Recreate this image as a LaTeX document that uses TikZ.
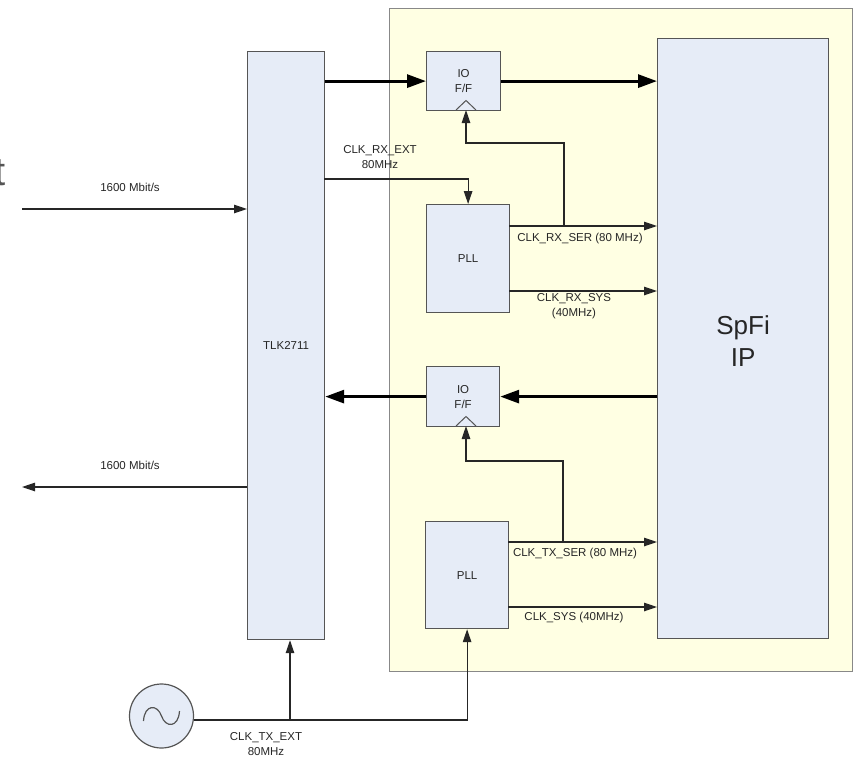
\documentclass[tikz,border=0pt]{standalone}
\usepackage{fontspec}
\setmainfont{Liberation Sans}
\usetikzlibrary{arrows.meta}
\definecolor{boxfill}{HTML}{E6ECF7}
\definecolor{boxline}{HTML}{555555}
\definecolor{yelfill}{HTML}{FFFFE3}
\definecolor{yelline}{HTML}{888888}
\definecolor{txt}{HTML}{262626}
\tikzset{
  blk/.style={draw=boxline, line width=1.2pt, fill=boxfill, inner sep=0pt, anchor=north west, text=txt, align=center},
  lbl/.style={text=txt, inner sep=0pt, align=center, font=\fontsize{11.5}{15}\selectfont},
  thinarr/.style={draw=txt, line width=1.2pt, -{Triangle[length=13pt,width=8.5pt]}},
  boldarr/.style={draw=black, line width=3pt, -{Triangle[length=19pt,width=13pt]}},
  clk/.style={draw=boxline, line width=1pt},
}
\begin{document}
\begin{tikzpicture}[x=1pt,y=-1pt]
\useasboundingbox (0,0) rectangle (854,758);
% cut-off text at left edge
\node[anchor=base east, inner sep=0pt, text=boxline, font=\fontsize{40}{44}\selectfont] (cut) at (6,185) {t};
% yellow FPGA region
\node[draw=yelline, line width=1.2pt, fill=yelfill, anchor=north west, inner sep=0pt, minimum width=463pt, minimum height=663pt] (fpga) at (389,8) {};
% blocks
\node[blk, minimum width=77pt, minimum height=588pt] (tlk) at (247,51) {};
\node[lbl] (tlklbl) at (tlk.center) {TLK2711};
\node[blk, minimum width=171pt, minimum height=600pt] (spfi) at (657,38) {};
\node[lbl, font=\fontsize{26}{32}\selectfont] (spfilbl) at ([yshift=-2pt]spfi.center) {SpFi\\IP};
\node[blk, minimum width=74pt, minimum height=59pt] (io1) at (426,51) {};
\node[lbl] (io1lbl) at (io1.center) {IO\\F/F};
\node[blk, minimum width=73pt, minimum height=60pt] (io2) at (426,366) {};
\node[lbl] (io2lbl) at (io2.center) {IO\\F/F};
\node[blk, minimum width=83pt, minimum height=108pt] (pll1) at (426,204) {};
\node[lbl] (pll1lbl) at (pll1.center) {PLL};
\node[blk, minimum width=83pt, minimum height=107pt] (pll2) at (425,521) {};
\node[lbl] (pll2lbl) at (pll2.center) {PLL};
\node[draw=boxline, line width=1.2pt, fill=boxfill, circle, minimum size=64pt, inner sep=0pt] (osc) at (161.5,716) {};
% sine in oscillator
\draw[line width=1.2pt, draw=boxline] ([shift={(-18,5)}]osc.center) .. controls ([shift={(-17,-12)}]osc.center) and ([shift={(-4,-12)}]osc.center) .. (osc.center) .. controls ([shift={(4,12)}]osc.center) and ([shift={(17,12)}]osc.center) .. ([shift={(18,-5)}]osc.center);
% clock triangles
\draw[clk] (456,110) -- (466,100.5) -- (476,110);
\draw[clk] (456,426) -- (466,416.5) -- (476,426);
\coordinate (io1clk) at (466,110);
\coordinate (io2clk) at (466,426);
% serial links
\coordinate (inL) at (22,209);
\coordinate (outL) at (22,487);
\draw[thinarr] (inL) -- (tlk.west |- inL);
\draw[thinarr] (tlk.west |- outL) -- (outL);
\node[lbl] (inlbl) at (130,187) {1600 Mbit/s};
\node[lbl] (outlbl) at (130,465) {1600 Mbit/s};
% bold data paths
\draw[boldarr] (tlk.east |- io1.west) -- (io1.west);
\draw[boldarr] (io1.east) -- (spfi.west |- io1.east);
\draw[boldarr] (spfi.west |- io2.east) -- (io2.east);
\draw[boldarr] (io2.west) -- (tlk.east |- io2.west);
% RX clock
\coordinate (rxext) at (324,179);
\draw[thinarr] (rxext) -| (pll1.north);
\node[lbl] (rxextlbl) at (380,157) {CLK\_RX\_EXT\\80MHz};
\coordinate (rxser) at (509,226);
\coordinate (rxsys) at (509,291);
\coordinate (rxtap) at (564,226);
\draw[thinarr] (rxser) -- (spfi.west |- rxser);
\draw[thinarr] (rxsys) -- (spfi.west |- rxsys);
\draw[thinarr] (rxtap) |- (466,143) -- (io1clk);
\node[lbl] (rxserlbl) at (580,239) {CLK\_RX\_SER (80 MHz)};
\node[lbl] (rxsyslbl) at (574,306) {CLK\_RX\_SYS\\(40MHz)};
% TX clock
\coordinate (txser) at (508,542);
\coordinate (txsys) at (508,607);
\coordinate (txtap) at (563,542);
\draw[thinarr] (txser) -- (spfi.west |- txser);
\draw[thinarr] (txsys) -- (spfi.west |- txsys);
\draw[thinarr] (txtap) |- (466,461) -- (io2clk);
\node[lbl] (txserlbl) at (575,554) {CLK\_TX\_SER (80 MHz)};
\node[lbl] (txsyslbl) at (574,618) {CLK\_SYS (40MHz)};
% oscillator distribution
\coordinate (branch) at (290,720);
\draw[thinarr] (osc.-7) -| (pll2.south);
\draw[thinarr] (branch) -- (branch |- tlk.south);
\node[lbl] (txextlbl) at (266,744) {CLK\_TX\_EXT\\80MHz};
\end{tikzpicture}
\end{document}
